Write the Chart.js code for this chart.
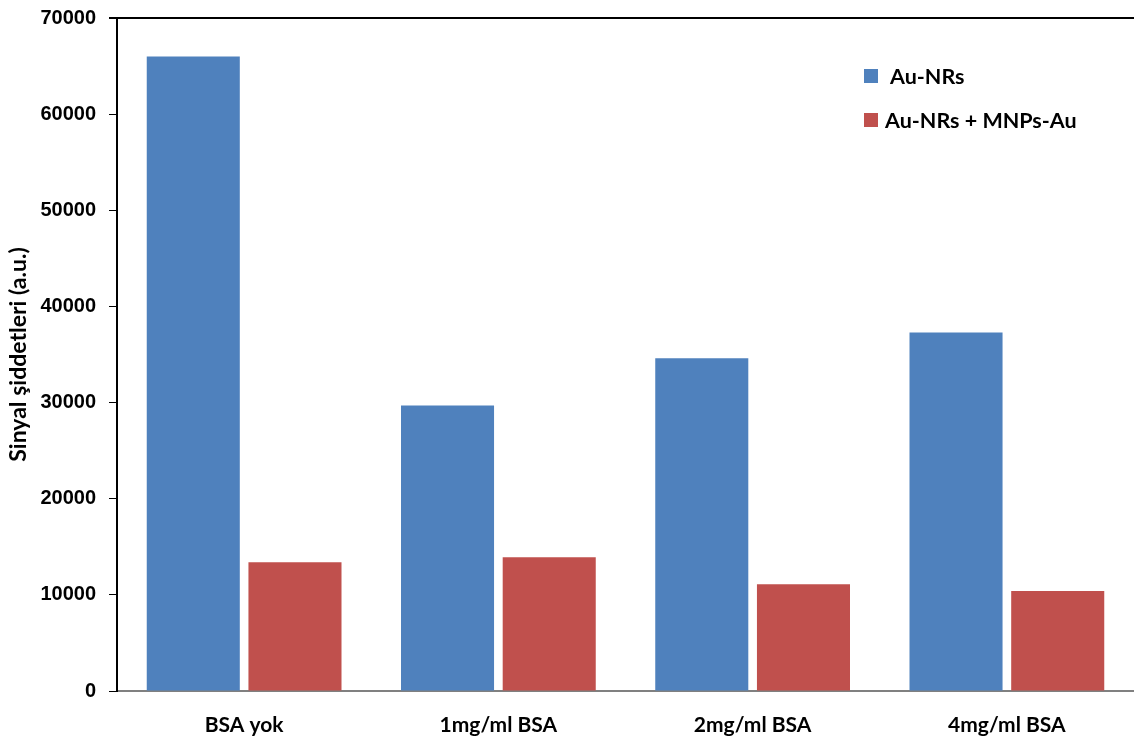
<!DOCTYPE html>
<html>
<head>
<meta charset="utf-8">
<script src="https://cdn.jsdelivr.net/npm/chart.js@4.4.1/dist/chart.umd.min.js"></script>
<style>
  html, body { margin: 0; padding: 0; background: #ffffff; }
  #grafica { display: block; }
</style>
</head>
<body>
<canvas id="grafica" width="1134" height="737"></canvas>
<script>
// datos
const categorias = ['BSA yok', '1mg/ml BSA', '2mg/ml BSA', '4mg/ml BSA'];
const serieNombres = ['Au-NRs', 'Au-NRs + MNPs-Au'];
const auNRs = [66000, 29700, 34600, 37300];
const auNRsMNPs = [13400, 13900, 11100, 10400];
const colores = ['#4F81BD', '#C0504D'];
const tituloY = 'Sinyal şiddetleri (a.u.)';

// leyenda dibujada dentro del area de la grafica y linea superior
const leyendaInterna = {
    id: 'leyendaInterna',
    afterDraw(chart) {
        const ctx = chart.ctx;
        const area = chart.chartArea;
        ctx.save();
        // linea superior del marco
        ctx.strokeStyle = '#000000';
        ctx.lineWidth = 2;
        ctx.beginPath();
        ctx.moveTo(area.left - 8, area.top);
        ctx.lineTo(chart.width, area.top);
        ctx.stroke();

        ctx.font = 'bold 21.5px Lato';
        ctx.textBaseline = 'middle';
        const items = [
            { x: 864, y: 76, tx: 890 },
            { x: 864, y: 120, tx: 885 }
        ];
        chart.data.datasets.forEach(function (ds, i) {
            const it = items[i];
            ctx.fillStyle = ds.backgroundColor;
            ctx.fillRect(it.x, it.y - 7, 14, 14);
            ctx.fillStyle = '#000000';
            ctx.fillText(ds.label, it.tx, it.y + 1);
        });
        ctx.restore();
    }
};

window.onload = function () {
    var ctx = document.getElementById('grafica').getContext('2d');

    var grafica = new Chart(ctx, {
        type: 'bar',
        data: {
            labels: categorias,
            datasets: [{
                label: serieNombres[0],
                data: auNRs,
                backgroundColor: colores[0],
                categoryPercentage: 0.8,
                barPercentage: 0.915
            }, {
                label: serieNombres[1],
                data: auNRsMNPs,
                backgroundColor: colores[1],
                categoryPercentage: 0.8,
                barPercentage: 0.915
            }]
        },
        options: {
            responsive: false,
            animation: false,
            layout: { padding: { top: 18, right: 0, left: 0, bottom: 0 } },
            plugins: {
                legend: { display: false },
                tooltip: { enabled: false }
            },
            scales: {
                x: {
                    grid: { display: false, drawTicks: false },
                    border: { color: '#808080', width: 2 },
                    ticks: {
                        color: '#000000',
                        padding: 22,
                        font: { family: 'Lato', weight: 'bold', size: 21 }
                    },
                    afterFit: function (scale) {
                        scale.height = 46;
                        scale.paddingLeft = 0;
                        scale.paddingRight = 0;
                    }
                },
                y: {
                    min: 0,
                    max: 70000,
                    grid: { drawOnChartArea: false, tickLength: 8, color: '#000000', lineWidth: 1 },
                    border: { color: '#000000', width: 2 },
                    ticks: {
                        stepSize: 10000,
                        color: '#000000',
                        padding: 13,
                        font: { family: 'Liberation Sans', weight: 'bold', size: 20 },
                        callback: function (v) { return String(v); }
                    },
                    title: {
                        display: true,
                        text: tituloY,
                        color: '#000000',
                        padding: { top: 5, bottom: 0 },
                        font: { family: 'Lato', weight: 'bold', size: 23 }
                    },
                    afterFit: function (scale) {
                        scale.width = 117;
                        scale.paddingTop = 0;
                        scale.paddingBottom = 0;
                    }
                }
            }
        },
        plugins: [leyendaInterna]
    });
};
</script>
</body>
</html>
